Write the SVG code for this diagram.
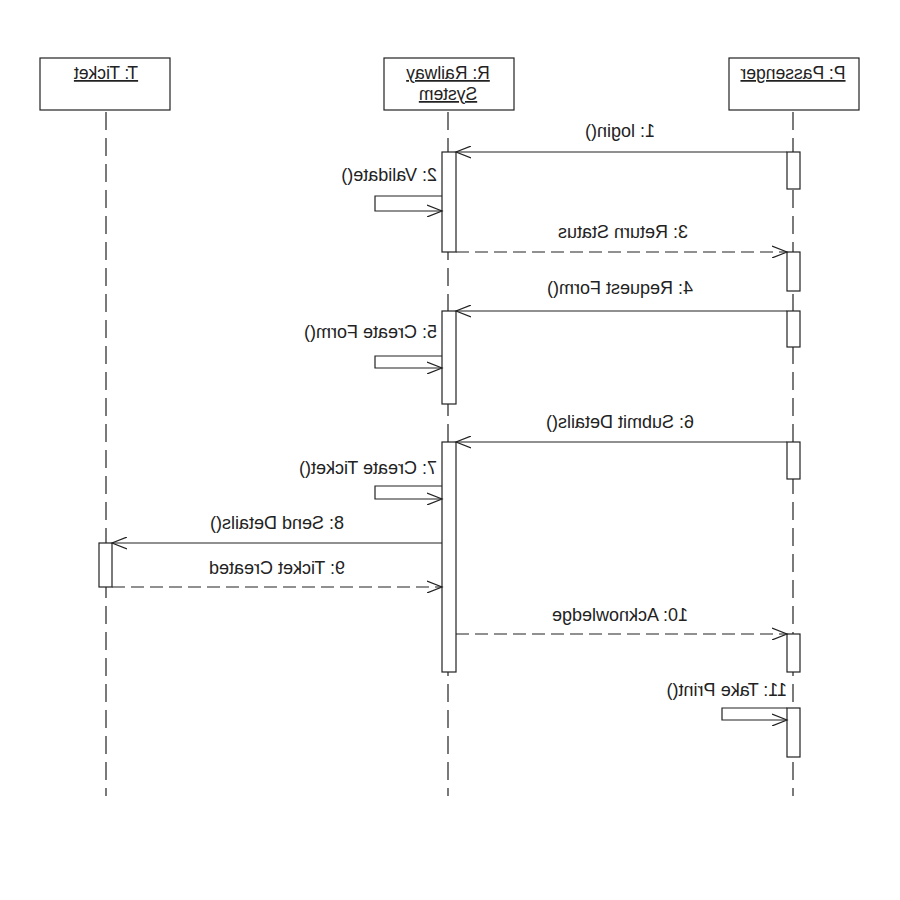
<svg xmlns="http://www.w3.org/2000/svg" width="900" height="900" viewBox="0 0 900 900">
<style>
.box{fill:#fff;stroke:#222;stroke-width:1.2}
.act{fill:#fff;stroke:#222;stroke-width:1.2}
.life{stroke:#222;stroke-width:1.2;stroke-dasharray:18 8;fill:none}
.msg{stroke:#222;stroke-width:1.2;fill:none;marker-end:url(#open)}
.ret{stroke:#222;stroke-width:1.2;fill:none;stroke-dasharray:13 6;marker-end:url(#open)}
text{font-family:"Liberation Sans",Arial,sans-serif;font-size:18px;fill:#222}
.title{text-anchor:middle;text-decoration:underline;font-size:17.5px}
.c{text-anchor:middle}
</style>
<defs>
<marker id="open" markerUnits="userSpaceOnUse" markerWidth="18" markerHeight="14" refX="15" refY="6" orient="auto">
<path d="M0,0 L15,6 L0,12" fill="none" stroke="#222" stroke-width="1.2"/>
</marker>
</defs>
<rect width="900" height="900" fill="#fff"/>
<g transform="matrix(-1 0 0 1 900 0)">
<g id="lifelines">
<line class="life" x1="107" y1="112" x2="107" y2="796"/>
<line class="life" x1="452" y1="112" x2="452" y2="796"/>
<line class="life" x1="794" y1="112" x2="794" y2="796"/>
</g>
<g id="node-passenger">
<rect class="box" x="41" y="58" width="130" height="52"/>
<text class="title" x="107" y="79">P: Passenger</text>
<rect class="act" x="100" y="152" width="13" height="37"/>
<rect class="act" x="100" y="252" width="13" height="39"/>
<rect class="act" x="100" y="311" width="13" height="36"/>
<rect class="act" x="100" y="442" width="13" height="37"/>
<rect class="act" x="100" y="634" width="13" height="38"/>
<rect class="act" x="100" y="708" width="13" height="49"/>
</g>
<g id="node-railway">
<rect class="box" x="386" y="58" width="130" height="52"/>
<text class="title" x="452" y="79">R: Railway</text>
<text class="title" x="452" y="100">System</text>
<rect class="act" x="444" y="152" width="14" height="100"/>
<rect class="act" x="444" y="311" width="14" height="93"/>
<rect class="act" x="444" y="442" width="14" height="230"/>
</g>
<g id="node-ticket">
<rect class="box" x="730" y="58" width="130" height="52"/>
<text class="title" x="794" y="79">T: Ticket</text>
<rect class="act" x="788" y="543" width="13" height="44"/>
</g>
<g id="connectors">
<line class="msg" x1="113" y1="152" x2="444" y2="152"/>
<path class="msg" d="M458,196 H525 V211 H458"/>
<line class="ret" x1="444" y1="252" x2="113" y2="252"/>
<line class="msg" x1="113" y1="311" x2="444" y2="311"/>
<path class="msg" d="M458,356 H525 V368 H458"/>
<line class="msg" x1="113" y1="442" x2="444" y2="442"/>
<path class="msg" d="M458,486 H525 V499 H458"/>
<line class="msg" x1="458" y1="543" x2="788" y2="543"/>
<line class="ret" x1="788" y1="587" x2="458" y2="587"/>
<line class="ret" x1="444" y1="634" x2="113" y2="634"/>
<path class="msg" d="M113,708 H178 V720 H113"/>
</g>
<g id="labels">
<text class="c" x="280" y="137">1: login()</text>
<text x="463" y="181">2: Validate()</text>
<text class="c" x="277" y="238">3: Return Status</text>
<text class="c" x="280" y="294">4: Request Form()</text>
<text x="463" y="338">5: Create Form()</text>
<text class="c" x="280" y="428">6: Submit Details()</text>
<text x="463" y="474">7: Create Ticket()</text>
<text class="c" x="623" y="529">8: Send Details()</text>
<text class="c" x="623" y="574">9: Ticket Created</text>
<text class="c" x="280" y="621">10: Acknowledge</text>
<text x="113" y="696">11: Take Print()</text>
</g>
</g>
</svg>
